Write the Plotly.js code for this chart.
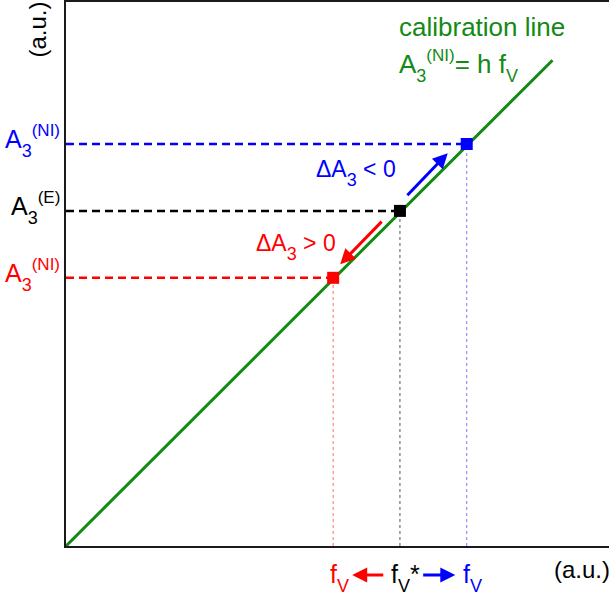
<!DOCTYPE html>
<html>
<head>
<meta charset="utf-8">
<script src="https://cdn.plot.ly/plotly-3.0.1.min.js"></script>
<style>html,body{margin:0;padding:0;background:#fff;}#chart{width:609px;height:598px;}</style>
</head>
<body>
<div id="chart"></div>
<script>
// ---- data ----
const calibX = [0, 8.96];
const calibY = [0, 8.93];
const pointNames = ["NI (low)", "E", "NI (high)"];
const pointF = [4.92, 6.15, 7.38];
const pointA = [4.93, 6.16, 7.39];
const pointColors = ["#ff0000", "#000000", "#0000ff"];
const guideColors = ["#ff7070", "#555555", "#7a7aff"];
const SUB = '<span style="font-size:18px;baseline-shift:-9px">';
const SUP = '<span style="font-size:17px;baseline-shift:12px">';
const yLabels = ["A" + SUB + "3</span>" + SUP + "(NI)</span>",
                 "A" + SUB + "3</span>" + SUP + "(E)</span>",
                 "A" + SUB + "3</span>" + SUP + "(NI)</span>"];
const xLabels = ["f" + SUB + "V</span>", "f" + SUB + "V</span>*", "f" + SUB + "V</span>"];
const deltaLabels = ["\u0394A" + SUB + "3</span> > 0", "\u0394A" + SUB + "3</span> < 0"];
const axisUnit = "(a.u.)";
const calibTitle = "calibration line";
const calibFormula = "A" + SUB + "3</span>" + SUP + "(NI)</span>= h f" + SUB + "V</span>";

const FONT = "Liberation Sans, Arial, sans-serif";
const GREEN = "#138a13";

const traces = [];
for (let i = 0; i < 3; i++) {
  traces.push({x: [0, pointF[i]], y: [pointA[i], pointA[i]], mode: "lines",
    line: {color: pointColors[i], width: 2.5, dash: "8px,5px"}, hoverinfo: "skip", showlegend: false});
  traces.push({x: [pointF[i], pointF[i]], y: [0, pointA[i]], mode: "lines",
    line: {color: guideColors[i], width: 1, dash: "3px,3px"}, hoverinfo: "skip", showlegend: false});
}
traces.push({x: calibX, y: calibY, mode: "lines", line: {color: GREEN, width: 3}, showlegend: false, hoverinfo: "skip"});
traces.push({x: pointF, y: pointA, mode: "markers", text: pointNames,
  marker: {symbol: "square", size: 12, color: pointColors}, showlegend: false});

const ann = [];
for (let i = 0; i < 3; i++) {
  ann.push({xref: "paper", yref: "y", x: 0, y: pointA[i], xanchor: "right", yanchor: "middle",
    xshift: -4, yshift: 3, text: yLabels[i], showarrow: false, font: {family: FONT, size: 25, color: pointColors[i]}});
}
for (let i = 0; i < 3; i++) {
  ann.push({xref: "x", yref: "paper", x: pointF[i], y: 0, xanchor: "center", yanchor: "top",
    xshift: 6, yshift: -12, text: xLabels[i], showarrow: false, font: {family: FONT, size: 25, color: pointColors[i]}});
}
ann.push({xref: "x", yref: "paper", x: pointF[0] + 0.35, y: 0, axref: "x", ayref: "pixel",
  ax: pointF[1] - 0.28, ay: 0, yshift: -29, text: "", showarrow: true, arrowhead: 2, arrowsize: 1, arrowwidth: 3, arrowcolor: pointColors[0]});
ann.push({xref: "x", yref: "paper", x: pointF[2] - 0.21, y: 0, axref: "x", ayref: "pixel",
  ax: pointF[1] + 0.40, ay: 0, yshift: -29, text: "", showarrow: true, arrowhead: 2, arrowsize: 1, arrowwidth: 3, arrowcolor: pointColors[2]});
// arrows along the calibration line
ann.push({xref: "x", yref: "y", axref: "x", ayref: "y",
  x: pointF[0] + 0.13, y: pointA[0] + 0.25, ax: pointF[1] - 0.31, ay: pointA[1] - 0.17,
  text: "", showarrow: true, arrowhead: 2, arrowsize: 1, arrowwidth: 3, arrowcolor: pointColors[0]});
ann.push({xref: "x", yref: "y", axref: "x", ayref: "y",
  x: pointF[2] - 0.35, y: pointA[2] - 0.17, ax: pointF[1] + 0.11, ay: pointA[1] + 0.26,
  text: "", showarrow: true, arrowhead: 2, arrowsize: 1, arrowwidth: 3, arrowcolor: pointColors[2]});
// delta labels
ann.push({xref: "x", yref: "y", x: pointF[0], y: pointA[0], xanchor: "right", yanchor: "middle",
  xshift: 5, yshift: 31, text: deltaLabels[0], showarrow: false, font: {family: FONT, size: 23, color: pointColors[0]}});
ann.push({xref: "x", yref: "y", x: pointF[1], y: pointA[1], xanchor: "right", yanchor: "middle",
  xshift: -2, yshift: 38, text: deltaLabels[1], showarrow: false, font: {family: FONT, size: 23, color: pointColors[2]}});
// calibration labels
ann.push({xref: "paper", yref: "paper", x: (482 - 66) / 543, y: (546 - 27) / 544, xanchor: "center", yanchor: "middle",
  text: calibTitle, showarrow: false, font: {family: FONT, size: 26, color: GREEN}});
ann.push({xref: "paper", yref: "paper", x: (397 - 66) / 543, y: (546 - 66) / 544, xanchor: "left", yanchor: "middle",
  text: calibFormula, showarrow: false, font: {family: FONT, size: 26, color: GREEN}});
ann.push({xref: "paper", yref: "paper", x: 1, y: 0, xanchor: "right", yanchor: "top", xshift: 3, yshift: -8,
  text: axisUnit, showarrow: false, font: {family: FONT, size: 24, color: "#000"}});
ann.push({xref: "paper", yref: "paper", x: 0, y: 1, xanchor: "right", yanchor: "top", xshift: -14, yshift: 2,
  text: axisUnit, textangle: -90, showarrow: false, font: {family: FONT, size: 24, color: "#000"}});

const layout = {
  width: 609, height: 598,
  margin: {l: 66, r: 0, t: 2, b: 52, pad: 0},
  paper_bgcolor: "#fff", plot_bgcolor: "#fff",
  showlegend: false,
  xaxis: {range: [0, 10], showgrid: false, zeroline: false, showticklabels: false, ticks: "",
    showline: true, linecolor: "#1a1a1a", linewidth: 2, mirror: true, fixedrange: true},
  yaxis: {range: [0, 10], showgrid: false, zeroline: false, showticklabels: false, ticks: "",
    showline: true, linecolor: "#1a1a1a", linewidth: 2, fixedrange: true},
  annotations: ann
};
Plotly.newPlot("chart", traces, layout, {displayModeBar: false, staticPlot: true});
</script>
</body>
</html>
